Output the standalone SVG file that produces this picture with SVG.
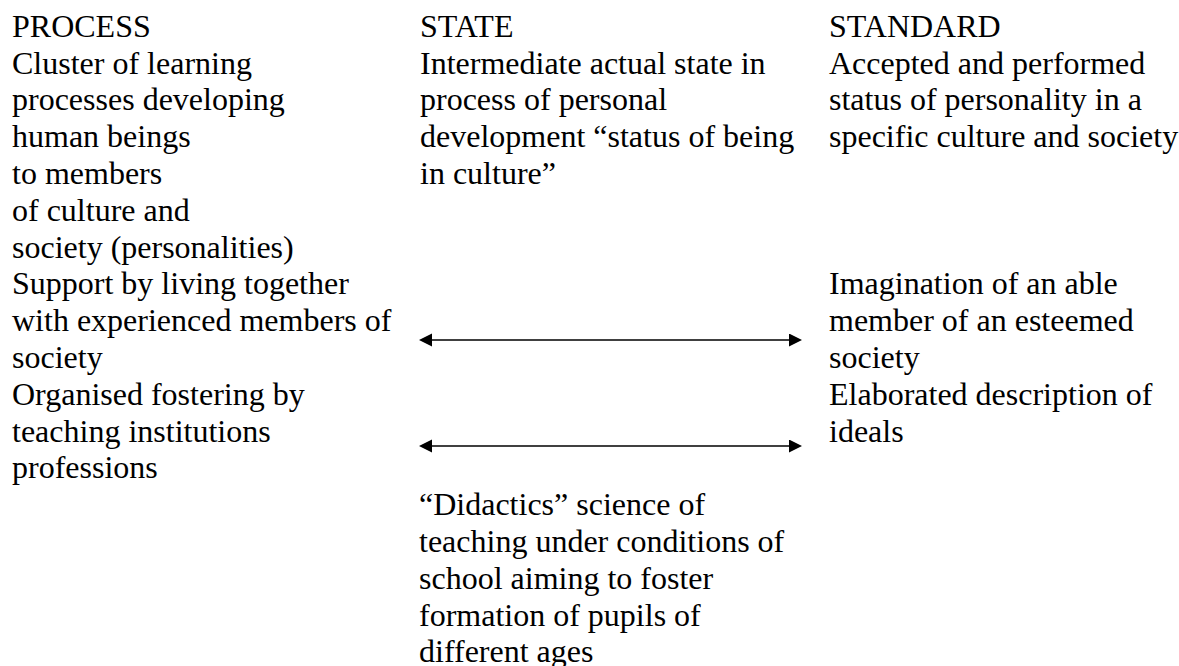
<svg xmlns="http://www.w3.org/2000/svg" width="1179" height="666" viewBox="0 0 1179 666">
<style>
text{font-family:'Times New Roman','Liberation Serif',Tinos,serif;font-size:32px;fill:#000}
.conn{stroke:#000;stroke-width:1.6;fill:none}
</style>
<defs>
<marker id="ah" markerUnits="userSpaceOnUse" markerWidth="14" markerHeight="14" refX="0" refY="6.5" orient="auto-start-reverse" viewBox="0 0 14 14">
<path d="M0,0 L13,6.5 L0,13 z" fill="#000"/>
</marker>
</defs>
<rect width="1179" height="666" fill="#fff"/>
<g id="process">
<text x="12" y="36.7">PROCESS</text>
<text x="12" y="73.5">Cluster of learning</text>
<text x="12" y="110.3">processes developing</text>
<text x="12" y="147.1">human beings</text>
<text x="12" y="183.9">to members</text>
<text x="12" y="220.7">of culture and</text>
<text x="12" y="257.5">society (personalities)</text>
</g>
<g id="process-support">
<text x="12" y="294.3">Support by living together</text>
<text x="12" y="331.1">with experienced members of</text>
<text x="12" y="367.9">society</text>
</g>
<g id="process-organised">
<text x="12" y="404.7">Organised fostering by</text>
<text x="12" y="441.5">teaching institutions</text>
<text x="12" y="478.3">professions</text>
</g>
<g id="state">
<text x="420" y="36.7">STATE</text>
<text x="420" y="73.5">Intermediate actual state in</text>
<text x="420" y="110.3">process of personal</text>
<text x="420" y="147.1">development “status of being</text>
<text x="420" y="183.9">in culture”</text>
</g>
<g id="didactics">
<text x="419" y="515.1">“Didactics” science of</text>
<text x="419" y="551.9">teaching under conditions of</text>
<text x="419" y="588.7">school aiming to foster</text>
<text x="419" y="625.5">formation of pupils of</text>
<text x="419" y="662.3">different ages</text>
</g>
<g id="standard">
<text x="829" y="36.7">STANDARD</text>
<text x="829" y="73.5">Accepted and performed</text>
<text x="829" y="110.3">status of personality in a</text>
<text x="829" y="147.1">specific culture and society</text>
</g>
<g id="standard-imagination">
<text x="829" y="294.3">Imagination of an able</text>
<text x="829" y="331.1">member of an esteemed</text>
<text x="829" y="367.9">society</text>
</g>
<g id="standard-elaborated">
<text x="829" y="404.7">Elaborated description of</text>
<text x="829" y="441.5">ideals</text>
</g>
<g id="connectors">
<line class="conn" x1="432" y1="340" x2="789" y2="340" marker-start="url(#ah)" marker-end="url(#ah)"/>
<line class="conn" x1="432" y1="446" x2="789" y2="446" marker-start="url(#ah)" marker-end="url(#ah)"/>
</g>
</svg>
